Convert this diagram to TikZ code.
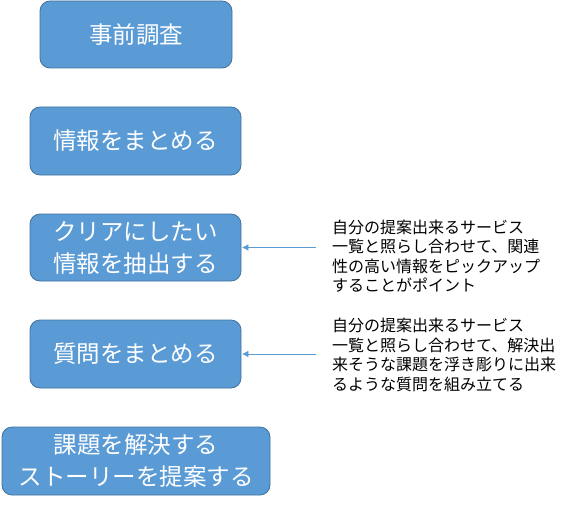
\documentclass[tikz,border=0pt]{standalone}
\usepackage{fontspec}
\setmainfont{Noto Sans CJK JP}
\usetikzlibrary{arrows.meta}
\definecolor{boxblue}{RGB}{91,155,213}
\definecolor{boxline}{RGB}{65,113,156}

\begin{document}
\begin{tikzpicture}[x=1pt,y=1pt,
	step box/.style={rectangle,rounded corners=10pt,draw=boxline,line width=0.8pt,fill=boxblue,text=white,font=\fontsize{23.5}{32}\selectfont,align=center,inner sep=0pt},
	memo/.style={anchor=west,align=left,inner xsep=16pt,inner ysep=0pt,font=\fontsize{16}{19.5}\selectfont}]
	\useasboundingbox (0,0) rectangle (580,-505);
	\node[step box,minimum width=192pt,minimum height=67pt] (1) at (136,-34.5) {事前調査};
	\node[step box,minimum width=211pt,minimum height=68pt] (2) at (135.5,-141) {情報をまとめる};
	\node[step box,minimum width=211pt,minimum height=67pt] (3) at (135.5,-247.5) {クリアにしたい\\情報を抽出する};
	\node[step box,minimum width=211pt,minimum height=68pt] (4) at (135.5,-354) {質問をまとめる};
	\node[step box,minimum width=268pt,minimum height=68pt] (5) at (136,-461) {課題を解決する\\ストーリーを提案する};
	
	\node[memo] (m3) at (316,-256) {自分の提案出来るサービス\\一覧と照らし合わせて、関連\\性の高い情報をピックアップ\\することがポイント};
	\node[memo] (m4) at (316,-355) {自分の提案出来るサービス\\一覧と照らし合わせて、解決出\\来そうな課題を浮き彫りに出来\\るような質問を組み立てる};
	
	\foreach \x/\y in {m3/3,m4/4}
		\draw[boxblue,-{Triangle[length=6pt,width=6pt]},line width=0.8pt] (\x.west |- \y.east) -- ([xshift=1pt]\y.east);
\end{tikzpicture}
\end{document}
